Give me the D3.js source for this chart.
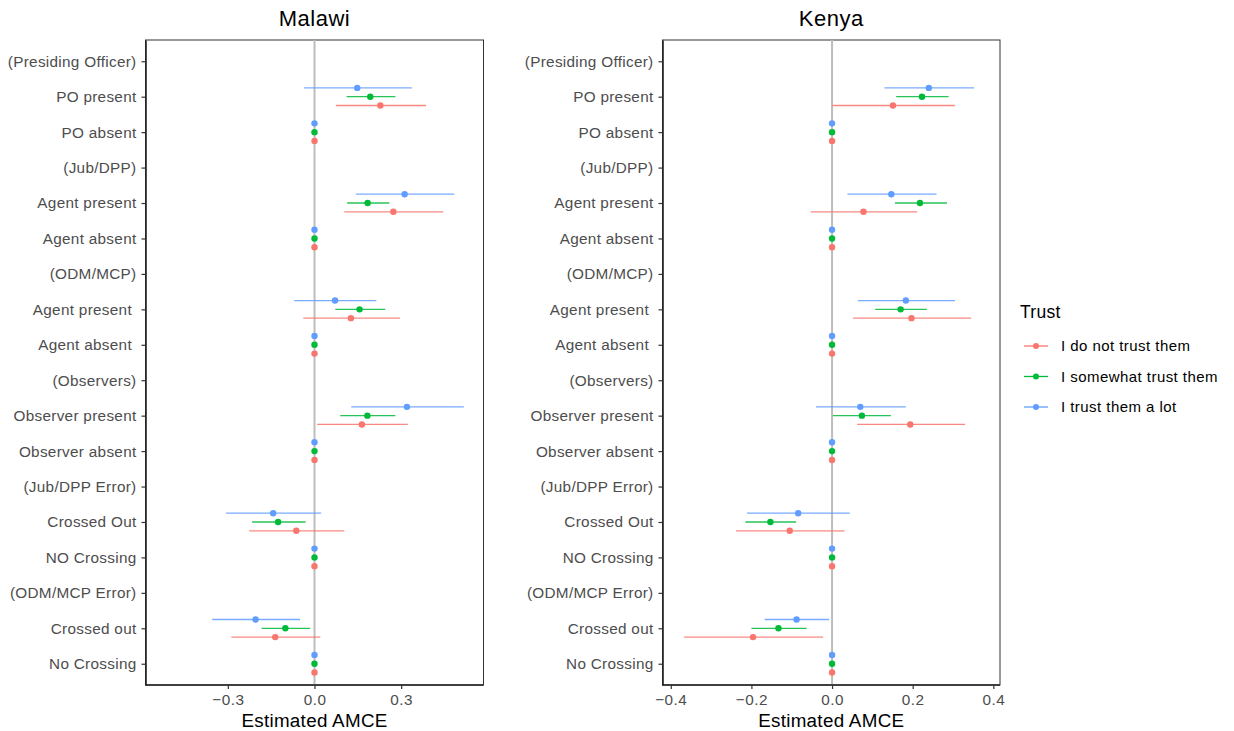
<!DOCTYPE html>
<html>
<head>
<meta charset="utf-8">
<script src="https://cdn.jsdelivr.net/npm/d3@7"></script>
<style>
  body { margin: 0; background: #fff; }
  text { font-family: "Liberation Sans", Arial, Helvetica, sans-serif; }
</style>
</head>
<body>
<svg id="chart" width="1234" height="731"></svg>
<script>
// Attribute levels, top to bottom (header rows carry no estimate)
const categoryKeys = ["h1","poP","poA","h2","agP1","agA1","h3","agP2","agA2","h4","obP","obA","h5","co1","nc1","h6","co2","nc2"];
const categoryLabels = ["(Presiding Officer)","PO present","PO absent","(Jub/DPP)","Agent present","Agent absent",
  "(ODM/MCP)","Agent present ","Agent absent ","(Observers)","Observer present","Observer absent",
  "(Jub/DPP Error)","Crossed Out","NO Crossing","(ODM/MCP Error)","Crossed out","No Crossing"];

const trustLevels = ["I do not trust them", "I somewhat trust them", "I trust them a lot"];
const trustColors = ["#F8766D", "#00BA38", "#619CFF"];

// [estimate, lower, upper] per attribute level; null = header row
const malawiNoTrust = [null,[0.228,0.074,0.386],[0,0,0],null,[0.273,0.103,0.446],[0,0,0],
  null,[0.126,-0.039,0.296],[0,0,0],null,[0.164,0.009,0.323],[0,0,0],
  null,[-0.063,-0.226,0.103],[0,0,0],null,[-0.136,-0.288,0.020],[0,0,0]];
const malawiSomeTrust = [null,[0.193,0.111,0.280],[0,0,0],null,[0.184,0.113,0.259],[0,0,0],
  null,[0.156,0.072,0.245],[0,0,0],null,[0.183,0.089,0.280],[0,0,0],
  null,[-0.126,-0.216,-0.031],[0,0,0],null,[-0.101,-0.183,-0.015],[0,0,0]];
const malawiLotTrust = [null,[0.148,-0.036,0.337],[0,0,0],null,[0.312,0.143,0.484],[0,0,0],
  null,[0.071,-0.070,0.214],[0,0,0],null,[0.320,0.127,0.517],[0,0,0],
  null,[-0.143,-0.306,0.023],[0,0,0],null,[-0.204,-0.354,-0.050],[0,0,0]];

const kenyaNoTrust = [null,[0.151,0.001,0.305],[0,0,0],null,[0.078,-0.053,0.211],[0,0,0],
  null,[0.197,0.052,0.345],[0,0,0],null,[0.194,0.062,0.330],[0,0,0],
  null,[-0.105,-0.238,0.031],[0,0,0],null,[-0.196,-0.367,-0.022],[0,0,0]];
const kenyaSomeTrust = [null,[0.223,0.159,0.289],[0,0,0],null,[0.218,0.156,0.285],[0,0,0],
  null,[0.170,0.107,0.235],[0,0,0],null,[0.074,0.002,0.146],[0,0,0],
  null,[-0.153,-0.215,-0.089],[0,0,0],null,[-0.133,-0.200,-0.063],[0,0,0]];
const kenyaLotTrust = [null,[0.240,0.130,0.352],[0,0,0],null,[0.147,0.038,0.259],[0,0,0],
  null,[0.183,0.064,0.305],[0,0,0],null,[0.070,-0.040,0.183],[0,0,0],
  null,[-0.084,-0.211,0.044],[0,0,0],null,[-0.088,-0.167,-0.007],[0,0,0]];

const malawiTicks = [-0.3, 0.0, 0.3];
const kenyaTicks = [-0.4, -0.2, 0.0, 0.2, 0.4];

const panels = [
  { title: "Malawi", series: [malawiNoTrust, malawiSomeTrust, malawiLotTrust],
    domain: [-0.585, 0.585], ticks: malawiTicks, fmt: d3.format(".1f"), x0: 145.5, x1: 483.5 },
  { title: "Kenya", series: [kenyaNoTrust, kenyaSomeTrust, kenyaLotTrust],
    domain: [-0.4205, 0.4165], ticks: kenyaTicks, fmt: d3.format(".1f"), x0: 662.5, x1: 1000 }
];

const svg = d3.select("#chart");
const plotTop = 40, plotBottom = 685;
const dodge = [8.8, 0, -8.8]; // red below, green centred, blue above

const y = d3.scalePoint().domain(categoryKeys).range([plotTop, plotBottom]).padding(0.6);

panels.forEach(p => {
  const x = d3.scaleLinear().domain(p.domain).range([p.x0, p.x1]);
  const g = svg.append("g");

  // panel border
  g.append("rect").attr("x", p.x0).attr("y", plotTop).attr("width", p.x1 - p.x0).attr("height", plotBottom - plotTop)
    .attr("fill", "none").attr("stroke", "#333").attr("stroke-width", 1);

  // zero reference line
  g.append("line").attr("x1", x(0)).attr("x2", x(0)).attr("y1", plotTop).attr("y2", plotBottom)
    .attr("stroke", "#bdbdbd").attr("stroke-width", 2);

  // y axis
  const yAxis = g.append("g").attr("transform", `translate(${p.x0},0)`)
    .call(d3.axisLeft(y).tickSize(4).tickSizeOuter(0).tickPadding(5).tickFormat((d, i) => categoryLabels[i]));
  yAxis.select(".domain").attr("stroke", "#222").attr("stroke-width", 1.6);
  yAxis.selectAll(".tick line").attr("stroke", "#333").attr("stroke-width", 1.2);
  yAxis.selectAll(".tick text").attr("font-size", 15.3).attr("fill", "#4D4D4D")
    .style("white-space", "pre").style("letter-spacing", "0.3px")
    .attr("font-family", "Liberation Sans, Arial, sans-serif");

  // x axis
  const xAxis = g.append("g").attr("transform", `translate(0,${plotBottom})`)
    .call(d3.axisBottom(x).tickValues(p.ticks).tickSize(4).tickSizeOuter(0).tickPadding(5).tickFormat(p.fmt));
  xAxis.select(".domain").attr("stroke", "#222").attr("stroke-width", 1.6)
    .attr("d", `M${p.x0},0H${p.x1}`);
  xAxis.selectAll(".tick line").attr("stroke", "#333").attr("stroke-width", 1.2);
  xAxis.selectAll(".tick text").attr("font-size", 15.3).attr("fill", "#4D4D4D")
    .style("letter-spacing", "0.5px")
    .attr("font-family", "Liberation Sans, Arial, sans-serif")
    .text(d => p.fmt(d).replace("-", "\u2212"));

  // estimates with confidence intervals
  p.series.forEach((vals, si) => {
    const rows = vals.map((v, i) => v ? { key: categoryKeys[i], est: v[0], lo: v[1], hi: v[2] } : null)
      .filter(d => d);
    const sg = g.append("g");
    sg.selectAll("line.ci").data(rows).join("line").attr("class", "ci")
      .attr("x1", d => x(d.lo)).attr("x2", d => x(d.hi))
      .attr("y1", d => y(d.key) + dodge[si]).attr("y2", d => y(d.key) + dodge[si])
      .attr("stroke", trustColors[si]).attr("stroke-width", 1.3).attr("stroke-opacity", 0.85);
    sg.selectAll("circle").data(rows).join("circle")
      .attr("cx", d => x(d.est)).attr("cy", d => y(d.key) + dodge[si]).attr("r", 3.2)
      .attr("fill", trustColors[si]);
  });

  // panel title
  svg.append("text").attr("x", (p.x0 + p.x1) / 2).attr("y", 26).attr("text-anchor", "middle")
    .attr("font-size", 22).style("letter-spacing", "0.5px").attr("fill", "#000").text(p.title);

  // x axis title
  svg.append("text").attr("x", (p.x0 + p.x1) / 2).attr("y", 726.5).attr("text-anchor", "middle")
    .attr("font-size", 18.8).style("letter-spacing", "0.3px").attr("fill", "#000").text("Estimated AMCE");
});

// legend
const legend = svg.append("g").attr("transform", "translate(1020,0)");
legend.append("text").attr("x", 0).attr("y", 318).attr("font-size", 17.5)
  .style("letter-spacing", "0.3px").attr("fill", "#000").text("Trust");
trustLevels.forEach((t, i) => {
  const ly = 346 + i * 30.5;
  legend.append("line").attr("x1", 4).attr("x2", 28).attr("y1", ly).attr("y2", ly)
    .attr("stroke", trustColors[i]).attr("stroke-width", 1.3);
  legend.append("circle").attr("cx", 16).attr("cy", ly).attr("r", 3).attr("fill", trustColors[i]);
  legend.append("text").attr("x", 41).attr("y", ly + 5).attr("font-size", 15)
    .style("letter-spacing", "0.45px").attr("fill", "#000").text(t);
});
</script>
</body>
</html>
